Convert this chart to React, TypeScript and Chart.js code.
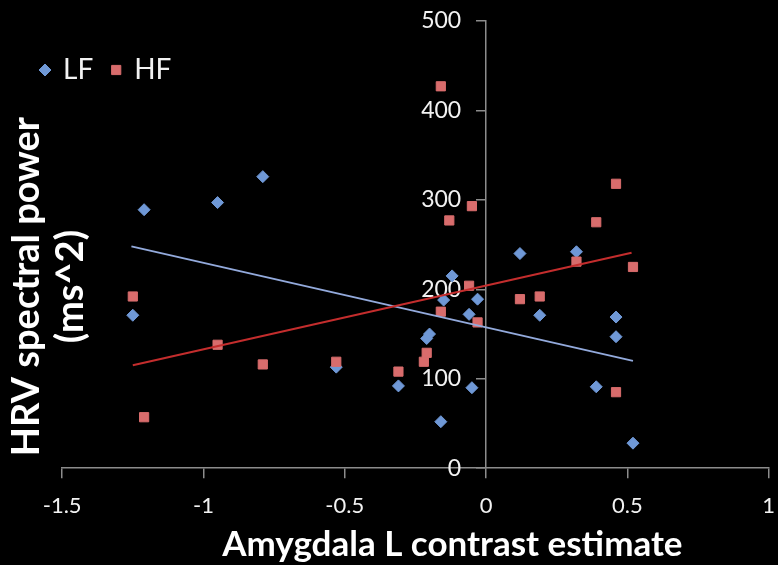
import React, { useEffect, useRef } from 'react';
import { Chart, registerables } from 'chart.js';
import { drawPoint } from 'chart.js/helpers';

Chart.register(...registerables);

// ---- data ----
const SERIES_NAMES = ['LF', 'HF'];

const LF_X = [-1.25, -1.21, -0.95, -0.79, -0.53, -0.31, -0.21, -0.2, -0.16, -0.12, -0.15, -0.06, -0.03, -0.05, 0.12, 0.19, 0.32, 0.39, 0.46, 0.46, 0.52];
const LF_Y = [171, 289, 297, 326, 113, 92, 145, 150, 52, 215, 188, 172, 189, 90, 240, 171, 242, 91, 169, 147, 28];

const HF_X = [-1.25, -1.21, -0.95, -0.79, -0.53, -0.31, -0.21, -0.22, -0.16, -0.13, -0.05, -0.06, -0.16, -0.03, 0.12, 0.19, 0.32, 0.39, 0.46, 0.46, 0.52];
const HF_Y = [192, 57, 138, 116, 119, 108, 129, 119, 427, 277, 293, 204, 175, 163, 189, 192, 231, 275, 318, 85, 225];

const LF_TREND_X = [-1.255, 0.52];
const LF_TREND_Y = [248, 120];
const HF_TREND_X = [-1.25, 0.515];
const HF_TREND_Y = [115, 241];

const X_TICKS = [-1.5, -1, -0.5, 0, 0.5, 1];
const Y_TICKS = [0, 100, 200, 300, 400, 500];

const X_TITLE = 'Amygdala L contrast estimate';
const Y_TITLE = ['HRV spectral power', '(ms^2)'];

// ---- styles / layout ----
const FONT = 'Lato, "Open Sans", sans-serif';
const LF_COLOR = '#6f98d6';
const HF_COLOR = '#d86c6c';
const LF_LINE = '#93aadc';
const HF_LINE = '#c42d2d';
const AXIS = '#8c8c8c';
const TEXT = '#f2f2f2';
const Y_LABEL_AT = -0.088; // x-value where the y tick labels end (left of the y axis)
const X_TITLE_SHIFT = 74; // px trimmed from the left of the x-title box
const Y_TITLE_SHIFT = 84; // px trimmed from the top of the y-title box

const toPts = (xs: number[], ys: number[]) => xs.map((x, i) => ({ x, y: ys[i] }));

const legendPlugin = {
  id: 'topLeftLegend',
  afterDraw(chart: any) {
    const ctx = chart.ctx;
    const ds = chart.data.datasets.slice(0, 2);
    ctx.save();
    ctx.font = `28px ${FONT}`;
    ctx.textBaseline = 'middle';
    ctx.textAlign = 'left';
    let x = 39;
    const y = 70;
    ds.forEach((d: any) => {
      ctx.fillStyle = d.backgroundColor;
      ctx.strokeStyle = d.borderColor;
      ctx.lineWidth = 1;
      drawPoint(ctx, { pointStyle: d.pointStyle, radius: d.pointRadius, rotation: 0, borderWidth: 1 }, x + 6, y);
      ctx.fillStyle = TEXT;
      const tx = x + 24;
      ctx.fillText(d.label, tx, y);
      x = tx + ctx.measureText(d.label).width + 17;
    });
    ctx.restore();
  },
};

const titleShiftPlugin = {
  id: 'titleShift',
  afterLayout(chart: any) {
    const xt = chart.scales.xt;
    const yt = chart.scales.yt;
    if (xt) xt.left += X_TITLE_SHIFT;
    if (yt) yt.top += Y_TITLE_SHIFT;
  },
};

const hiddenScale = (extra: any) => ({
  type: 'linear',
  display: true,
  grid: { display: false, drawTicks: false, tickLength: 0 },
  border: { display: false },
  ticks: { display: false },
  ...extra,
});

export default function App() {
  const ref = useRef<HTMLCanvasElement | null>(null);

  useEffect(() => {
    document.body.style.background = '#000';
    const canvas = ref.current!;
    const chart = new Chart(canvas, {
      type: 'scatter',
      data: {
        datasets: [
          {
            label: SERIES_NAMES[0],
            data: toPts(LF_X, LF_Y),
            pointStyle: 'rectRot',
            pointRadius: 6,
            backgroundColor: LF_COLOR,
            borderColor: LF_COLOR,
            borderWidth: 1,
            showLine: false,
            order: 4,
            xAxisID: 'x',
            yAxisID: 'y',
          },
          {
            label: SERIES_NAMES[1],
            data: toPts(HF_X, HF_Y),
            pointStyle: 'rect',
            pointRadius: 6.5,
            backgroundColor: HF_COLOR,
            borderColor: HF_COLOR,
            borderWidth: 1,
            showLine: false,
            order: 3,
            xAxisID: 'x',
            yAxisID: 'y',
          },
          {
            type: 'line',
            label: SERIES_NAMES[0] + ' trend',
            data: toPts(LF_TREND_X, LF_TREND_Y),
            borderColor: LF_LINE,
            borderWidth: 2,
            pointRadius: 0,
            fill: false,
            order: 2,
            xAxisID: 'x',
            yAxisID: 'y',
          },
          {
            type: 'line',
            label: SERIES_NAMES[1] + ' trend',
            data: toPts(HF_TREND_X, HF_TREND_Y),
            borderColor: HF_LINE,
            borderWidth: 2,
            pointRadius: 0,
            fill: false,
            order: 1,
            xAxisID: 'x',
            yAxisID: 'y',
          },
        ],
      },
      options: {
        responsive: false,
        animation: false,
        devicePixelRatio: 1,
        layout: { padding: { left: 0, top: 21, right: 18, bottom: 0 } },
        plugins: {
          legend: { display: false },
          tooltip: { enabled: false },
        },
        scales: {
          x: {
            type: 'linear',
            position: 'bottom',
            weight: 0,
            min: X_TICKS[0],
            max: X_TICKS[X_TICKS.length - 1],
            afterBuildTicks: (s: any) => {
              s.ticks = X_TICKS.map((v) => ({ value: v }));
            },
            grid: { display: true, drawOnChartArea: false, drawTicks: true, tickLength: 10, color: AXIS, lineWidth: 1.5 },
            border: { display: true, color: AXIS, width: 1.5 },
            ticks: {
              color: TEXT,
              font: { family: FONT, size: 22 },
              padding: 15,
              maxRotation: 0,
              autoSkip: false,
              callback: (v: any) => String(v),
            },
          },
          xt: hiddenScale({
            position: 'bottom',
            weight: 1,
            title: {
              display: true,
              text: X_TITLE,
              color: '#ffffff',
              font: { family: FONT, size: 35, weight: 'bold', lineHeight: 1.2 },
              padding: { top: -10.6, bottom: -1 },
            },
          }),
          y: {
            type: 'linear',
            position: { x: 0 },
            min: Y_TICKS[0],
            max: Y_TICKS[Y_TICKS.length - 1],
            afterBuildTicks: (s: any) => {
              s.ticks = Y_TICKS.map((v) => ({ value: v }));
            },
            grid: { display: true, drawOnChartArea: false, drawTicks: true, tickLength: 9, color: AXIS, lineWidth: 1.5 },
            border: { display: true, color: AXIS, width: 1.5 },
            ticks: { display: false },
          },
          ylab: {
            type: 'linear',
            position: { x: Y_LABEL_AT },
            min: Y_TICKS[0],
            max: Y_TICKS[Y_TICKS.length - 1],
            afterBuildTicks: (s: any) => {
              s.ticks = Y_TICKS.map((v) => ({ value: v }));
            },
            grid: { display: false },
            border: { display: false },
            ticks: { color: TEXT, font: { family: FONT, size: 23 }, callback: (v: any) => String(v) },
          },
          yt: hiddenScale({
            position: 'left',
            title: {
              display: true,
              text: Y_TITLE,
              color: '#ffffff',
              font: { family: FONT, size: 38, weight: 'bold', lineHeight: 1.16 },
              padding: { top: 5, bottom: -31 },
            },
          }),
        },
      } as any,
      plugins: [legendPlugin, titleShiftPlugin],
    } as any);
    return () => chart.destroy();
  }, []);

  return (
    <div style={{ position: 'fixed', left: 0, top: 0, width: 778, height: 565, overflow: 'hidden', background: '#000' }}>
      <canvas ref={ref} width={790} height={565} style={{ display: 'block', width: 790, height: 565 }} />
    </div>
  );
}
